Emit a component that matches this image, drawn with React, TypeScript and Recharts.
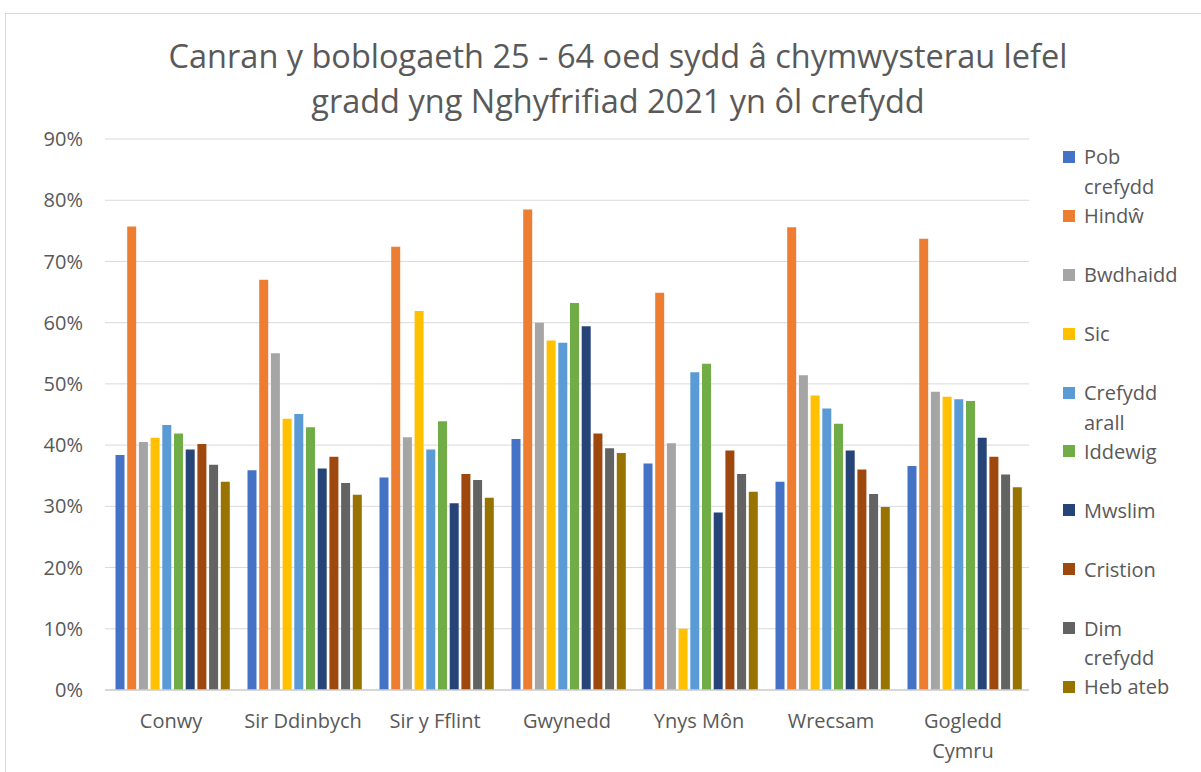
import React from 'react';
import { BarChart, Bar, XAxis, YAxis, CartesianGrid, Legend } from 'recharts';

const categories = ['Conwy', 'Sir Ddinbych', 'Sir y Fflint', 'Gwynedd', 'Ynys Môn', 'Wrecsam', 'Gogledd Cymru'];

const pobCrefydd = [38.4, 35.9, 34.7, 41.0, 37.0, 34.0, 36.6];
const hindw = [75.7, 67.0, 72.4, 78.5, 64.9, 75.6, 73.7];
const bwdhaidd = [40.5, 55.0, 41.3, 60.0, 40.3, 51.4, 48.7];
const sic = [41.2, 44.3, 61.9, 57.1, 10.0, 48.1, 47.9];
const crefyddArall = [43.3, 45.1, 39.3, 56.7, 51.9, 46.0, 47.5];
const iddewig = [41.9, 42.9, 43.9, 63.2, 53.3, 43.5, 47.2];
const mwslim = [39.3, 36.2, 30.5, 59.4, 29.0, 39.1, 41.2];
const cristion = [40.2, 38.1, 35.3, 41.9, 39.1, 36.0, 38.1];
const dimCrefydd = [36.8, 33.8, 34.3, 39.5, 35.3, 32.0, 35.2];
const hebAteb = [34.0, 31.9, 31.4, 38.7, 32.4, 29.9, 33.1];

const yTicks = [0, 10, 20, 30, 40, 50, 60, 70, 80, 90];

const titleLines = [
  'Canran y boblogaeth 25 - 64 oed sydd â chymwysterau lefel',
  'gradd yng Nghyfrifiad 2021 yn ôl crefydd',
];

const series = [
  { key: 's0', name: 'Pob crefydd', color: '#4472C4', values: pobCrefydd },
  { key: 's1', name: 'Hindŵ', color: '#ED7D31', values: hindw },
  { key: 's2', name: 'Bwdhaidd', color: '#A5A5A5', values: bwdhaidd },
  { key: 's3', name: 'Sic', color: '#FFC000', values: sic },
  { key: 's4', name: 'Crefydd arall', color: '#5B9BD5', values: crefyddArall },
  { key: 's5', name: 'Iddewig', color: '#70AD47', values: iddewig },
  { key: 's6', name: 'Mwslim', color: '#264478', values: mwslim },
  { key: 's7', name: 'Cristion', color: '#9E480E', values: cristion },
  { key: 's8', name: 'Dim crefydd', color: '#636363', values: dimCrefydd },
  { key: 's9', name: 'Heb ateb', color: '#997300', values: hebAteb },
];

const data = categories.map((c, i) => {
  const row: Record<string, any> = { name: c };
  series.forEach((s) => {
    row[s.key] = s.values[i];
  });
  return row;
});

const FONT = '"Open Sans", "Liberation Sans", sans-serif';
const TEXT = '#595959';

let canvasCtx: CanvasRenderingContext2D | null = null;
function measure(text: string, size: number) {
  if (!canvasCtx) {
    const c = document.createElement('canvas');
    canvasCtx = c.getContext('2d');
  }
  if (!canvasCtx) return text.length * size * 0.55;
  canvasCtx.font = `${size}px "Open Sans"`;
  return canvasCtx.measureText(text).width;
}

function wrapWords(text: string, maxWidth: number, size: number) {
  const words = text.split(' ');
  const lines: string[] = [];
  let cur = '';
  words.forEach((w) => {
    const cand = cur ? cur + ' ' + w : w;
    if (cur && measure(cand, size) > maxWidth) {
      lines.push(cur);
      cur = w;
    } else {
      cur = cand;
    }
  });
  if (cur) lines.push(cur);
  return lines;
}

const CategoryTick = (props: any) => {
  const { x, y, payload } = props;
  const lines = wrapWords(String(payload.value), 128, 20);
  return (
    <text x={x} y={y} textAnchor="middle" fill={TEXT} fontSize={20} fontFamily={FONT}>
      {lines.map((l, i) => (
        <tspan key={i} x={x} dy={i === 0 ? '0.71em' : 30}>
          {l}
        </tspan>
      ))}
    </text>
  );
};

const LegendContent = () => {
  return (
    <div style={{ fontFamily: FONT, fontSize: 20, color: TEXT }}>
      {series.map((s, i) => (
        <div key={i} style={{ height: 58.9, position: 'relative' }}>
          <div
            style={{
              position: 'absolute',
              left: 13,
              top: 8.6,
              width: 12,
              height: 12,
              background: s.color,
            }}
          />
          <div
            style={{
              position: 'absolute',
              left: 34,
              top: 0,
              width: 100,
              lineHeight: '29.6px',
              whiteSpace: 'normal',
            }}
          >
            {s.name}
          </div>
        </div>
      ))}
    </div>
  );
};

export default function App() {
  return (
    <div style={{ position: 'absolute', left: 0, top: 0, width: 1201, height: 772, overflow: 'hidden', background: '#fff' }}>
      <div
        style={{
          position: 'absolute',
          left: 5,
          top: 13,
          width: 1220,
          height: 800,
          border: '1px solid #d9d9d9',
        }}
      />
      {titleLines.map((t, i) => (
        <div
          key={i}
          style={{
            position: 'absolute',
            left: 0,
            width: 1236,
            top: 32.9 + i * 45,
            textAlign: 'center',
            fontFamily: FONT,
            fontSize: 32.5,
            lineHeight: '45px',
            color: TEXT,
            whiteSpace: 'nowrap',
          }}
        >
          {t}
        </div>
      ))}
      <div style={{ position: 'absolute', left: 0, top: 0 }}>
        <BarChart
          width={1201}
          height={772}
          data={data}
          margin={{ top: 139, right: 172, bottom: 52, left: 0 }}
          barCategoryGap={10.5}
          barGap={2.7}
        >
          <CartesianGrid vertical={false} stroke="#d9d9d9" strokeWidth={1} />
          <XAxis
            dataKey="name"
            axisLine={{ stroke: '#d0d0d0', strokeWidth: 1.5 }}
            tickLine={false}
            tickSize={6}
            tickMargin={17.5}
            interval={0}
            height={30}
            tick={<CategoryTick />}
          />
          <YAxis
            width={105}
            domain={[0, 90]}
            ticks={yTicks}
            tickFormatter={(v: number) => `${v}%`}
            axisLine={false}
            tickLine={false}
            tickSize={6}
            tickMargin={16}
            tick={{ fill: TEXT, fontSize: 20, fontFamily: FONT }}
            interval={0}
          />
          <Legend
            layout="vertical"
            align="center"
            verticalAlign="middle"
            content={<LegendContent />}
            wrapperStyle={{ left: 1050, top: 142.4, width: 151 }}
          />
          {series.map((s) => (
            <Bar key={s.key} dataKey={s.key} name={s.name} fill={s.color} isAnimationActive={false} />
          ))}
        </BarChart>
      </div>
    </div>
  );
}
